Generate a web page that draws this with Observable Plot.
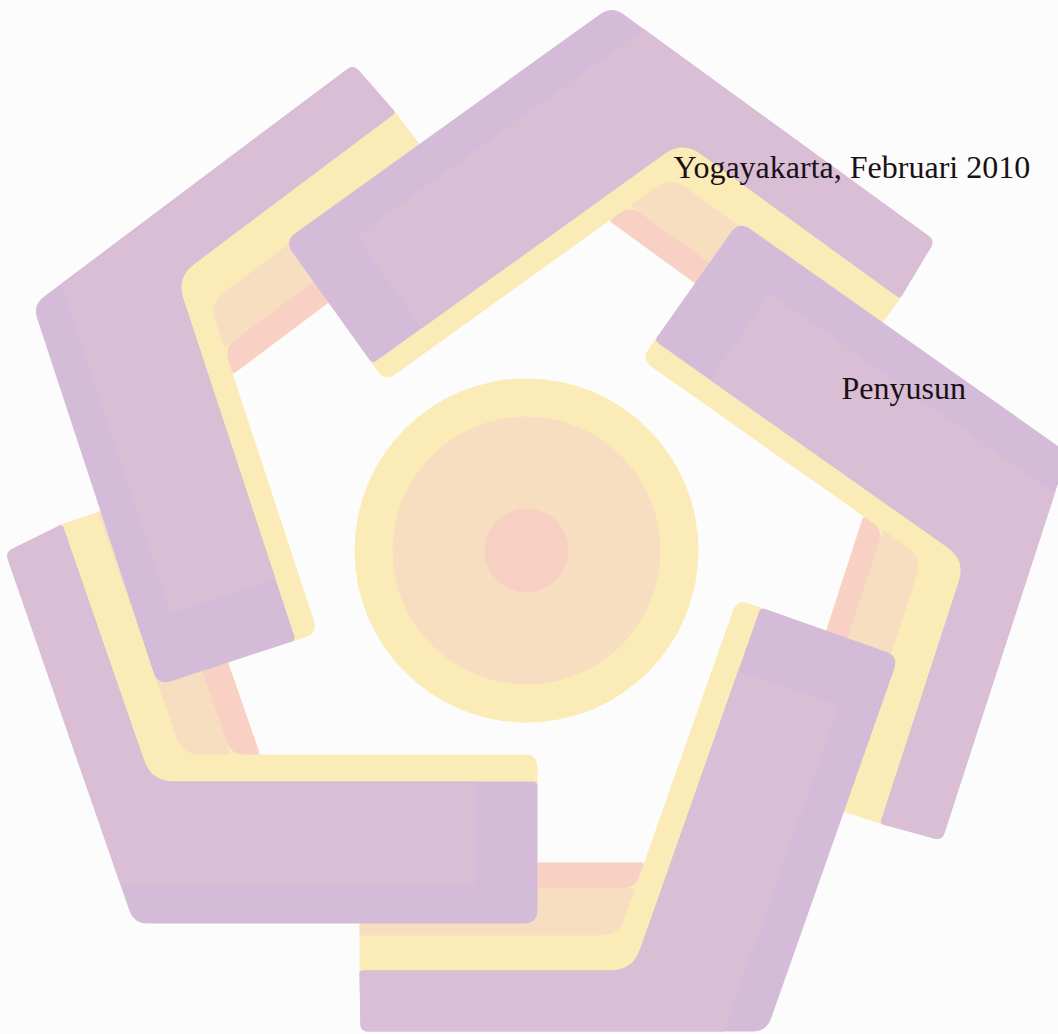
<!DOCTYPE html>
<html><head><meta charset="utf-8">
<script src="https://cdn.jsdelivr.net/npm/d3@7"></script>
<script src="https://cdn.jsdelivr.net/npm/@observablehq/plot@0.6"></script>
<style>html,body{margin:0;padding:0;background:#fcfcfc;} #chart svg{display:block}</style>
</head><body><div id="chart"></div>
<script>
// ---- data (pixels) ----
const arms = ["A", "B", "C", "D", "E"];
// orientation of the thin and the thick leg of each arm (inward normal, degrees)
const thinAngle  = [53.13, 126.0, 198.0, 270.0, 340.9];
const thickAngle = [-18.2, 54.3, 125.2, 199.4, 270.0];
// thin leg band boundaries (distance along the normal)
const thinOuter  = [263, -355, -1155, -1031, -176];
const thinPurple = [327, -287.5, -1091, -970, -113];
const thinYellow = [367.5, -251.5, -1049, -935, -75];
const thinPeach  = [412, -204.5, -1003, -888, -29];
const thinSalmon = [438.5, -179.5, -980, -862, -1.5];
// thick leg band boundaries
const thickOuter  = [-64.5, 361, -245.5, -1065, -923];
const thickPurple = [80.5, 512, -99, -918.5, -781];
const thickYellow = [104, 534, -76, -893.5, -754];
// ends of the legs (distance along the leg)
const thinCapOuter = [244, 897, 508, -360, -523];
const thinCapInner = [249, 903, 511, -359, -515];
const thickCap     = [700, -90, -730.5, -320, 537];
// darker strip along the thick leg
const stripInner = [-30, 399, -204.7, -1025, -885];
const stripEnd   = [635, -151, -798, -387, 475];

const discX = [526, 526, 526];
const discY = [550, 550, 550];
const discR = [172, 134, 42];

const labels = ["Yogayakarta, Februari 2010", "Penyusun"];
const labelX = [673, 841];
const labelY = [177, 398];

// ---- geometry helpers ----
const rad = a => a * Math.PI / 180;
function meet(a, b) {
  const [na, da] = a, [nb, db] = b;
  const det = na[0] * nb[1] - na[1] * nb[0];
  return [(da * nb[1] - na[1] * db) / det, (na[0] * db - da * nb[0]) / det];
}
function smooth(pts, radii) {
  const out = [], n = pts.length;
  for (let i = 0; i < n; i++) {
    const p = pts[i], r = radii[i];
    if (!r) { out.push(p); continue; }
    const a = pts[(i - 1 + n) % n], b = pts[(i + 1) % n];
    const la = Math.hypot(a[0] - p[0], a[1] - p[1]), lb = Math.hypot(b[0] - p[0], b[1] - p[1]);
    const ra = Math.min(r, la / 2), rb = Math.min(r, lb / 2);
    const p0 = [p[0] + (a[0] - p[0]) * ra / la, p[1] + (a[1] - p[1]) * ra / la];
    const p2 = [p[0] + (b[0] - p[0]) * rb / lb, p[1] + (b[1] - p[1]) * rb / lb];
    for (let k = 0; k <= 8; k++) {
      const t = k / 8, u = 1 - t;
      out.push([u*u*p0[0] + 2*u*t*p[0] + t*t*p2[0], u*u*p0[1] + 2*u*t*p[1] + t*t*p2[1]]);
    }
  }
  return out;
}

const layers = {blue: [], pink: [], yellow: [], peach: [], salmon: []};
function add(name, id, pts) { pts.forEach(([x, y]) => layers[name].push({id, x, y})); }

arms.forEach((arm, i) => {
  const a1 = rad(thinAngle[i]), a2 = rad(thickAngle[i]);
  const n1 = [Math.cos(a1), Math.sin(a1)], t1 = [n1[1], -n1[0]];
  const n2 = [Math.cos(a2), Math.sin(a2)], t2 = [-n2[1], n2[0]];
  const T = d => [n1, d], TS = s => [t1, s], K = d => [n2, d], KS = s => [t2, s];
  const X = meet;
  const O1 = thinOuter[i], Y1 = thinPurple[i], P1 = thinYellow[i], S1 = thinPeach[i], W1 = thinSalmon[i];
  const O2 = thickOuter[i], Y2 = thickPurple[i], W2 = thickYellow[i];
  const c1o = thinCapOuter[i], c1i = thinCapInner[i], c2 = thickCap[i];

  add("yellow", arm, smooth([
    X(T(Y1 - 6), TS(c1i)), X(T(W1), TS(c1i)), X(T(W1), K(W2)),
    X(K(W2), KS(c2)), X(K(Y2 - 6), KS(c2)), X(K(Y2 - 6), T(Y1 - 6))
  ], [0, 0, 0, 13, 0, 0]));
  add("peach", arm, smooth([
    X(T(P1), TS(c1i)), X(T(S1), TS(c1i)), X(T(S1), K(W2)), X(T(P1), K(W2))
  ], [0, 0, 0, 18]));
  add("salmon", arm, smooth([
    X(T(S1), TS(c1i)), X(T(W1), TS(c1i)), X(T(W1), K(W2)), X(T(S1), K(W2))
  ], [0, 0, 4, 14]));
  add("blue", arm, smooth([
    X(T(O1), K(O2)), X(T(O1), TS(c1o)), X(T(Y1), TS(c1i)),
    X(T(Y1), K(Y2)), X(K(Y2), KS(c2)), X(K(O2), KS(c2))
  ], [14, 8, 4, 22, 5, 14]));
  add("pink", arm, smooth([
    X(T(O1), K(stripInner[i])), X(T(O1), TS(c1o)), X(T(Y1), TS(c1i)),
    X(T(Y1), K(Y2)), X(K(Y2), KS(stripEnd[i])), X(K(stripInner[i]), KS(stripEnd[i]))
  ], [0, 8, 4, 22, 0, 6]));
});

const poly = (data, fill) => Plot.line(data, {x: "x", y: "y", z: "id", fill, stroke: "none", curve: "linear-closed"});
const discs = discR.map((r, i) => ({x: discX[i], y: discY[i], r}));
const discFill = ["#fbebb7", "#f8dec1", "#f8d0c3"];

const chart = Plot.plot({
  width: 1058, height: 1034, margin: 0,
  x: {domain: [0, 1058], range: [0, 1058], axis: null},
  y: {domain: [0, 1034], range: [0, 1034], axis: null},
  r: {type: "linear", domain: [0, 200], range: [0, 200]},
  style: {background: "#fcfcfc"},
  marks: [
    poly(layers.yellow, "#fbebb7"),
    poly(layers.peach, "#f8dec1"),
    poly(layers.salmon, "#f8d1c4"),
    poly(layers.blue, "#d4bcd9"),
    poly(layers.pink, "#d9bed6"),
    ...discs.map((d, i) => Plot.dot([d], {x: "x", y: "y", r: "r", fill: discFill[i], stroke: "none"})),
    Plot.text(labels, {
      x: (d, i) => labelX[i], y: (d, i) => labelY[i], text: d => d,
      fontSize: 32, fontFamily: "Liberation Serif, Times New Roman, serif",
      textAnchor: "start", lineAnchor: "bottom", fill: "#1a1015"
    })
  ]
});
document.getElementById("chart").append(chart);
</script>
</body></html>
